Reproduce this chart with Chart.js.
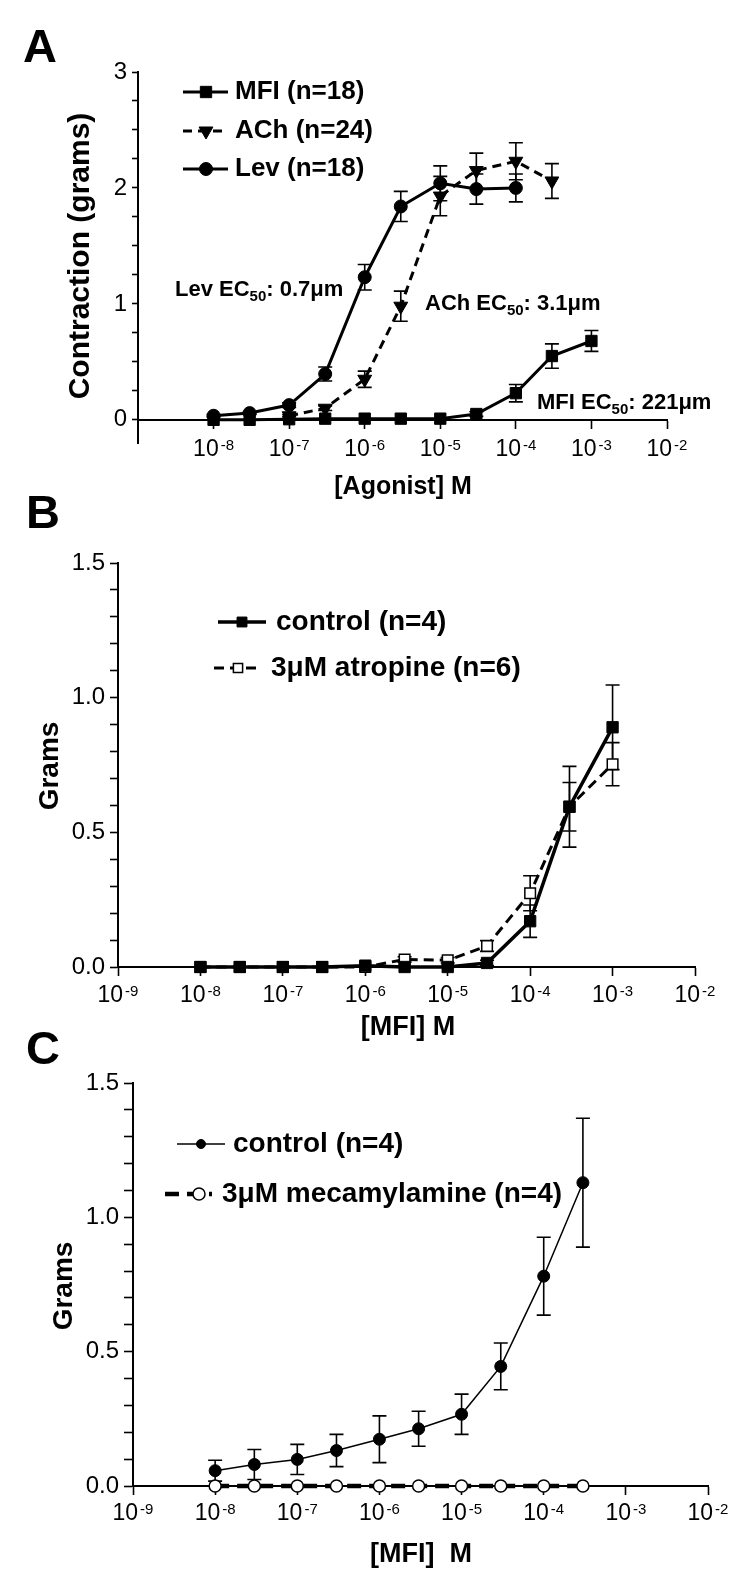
<!DOCTYPE html>
<html>
<head>
<meta charset="utf-8">
<script src="https://cdn.jsdelivr.net/npm/chart.js@4.4.1/dist/chart.umd.min.js"></script>
<style>
  html, body { margin: 0; padding: 0; background: #fff; }
  #page { position: relative; width: 750px; height: 1593px; overflow: hidden; }
  canvas { position: absolute; left: 0; }
  .tag { position: absolute; font: bold 47px 'Liberation Sans', Arial, sans-serif; line-height: 1; color: #000; }
</style>
</head>
<body>
<div id="page">
  <canvas id="chartA" width="750" height="505" style="top:0px"></canvas>
  <canvas id="chartB" width="750" height="540" style="top:505px"></canvas>
  <canvas id="chartC" width="750" height="548" style="top:1045px"></canvas>
  <div class="tag" style="left:23px;top:22px">A</div>
  <div class="tag" style="left:26px;top:488px">B</div>
  <div class="tag" style="left:26px;top:1024px">C</div>
</div>
<script>
// ---- Panel A: agonist concentration (M) vs contraction (g)
const concA   = [1e-8, 3e-8, 1e-7, 3e-7, 1e-6, 3e-6, 1e-5, 3e-5, 1e-4, 3e-4, 1e-3];
const mfiA    = [0, 0, 0.005, 0.01, 0.01, 0.01, 0.01, 0.05, 0.23, 0.55, 0.68];
const mfiAErr = [0, 0, 0, 0, 0, 0, 0, 0.02, 0.075, 0.105, 0.09];
const levConc = [1e-8, 3e-8, 1e-7, 3e-7, 1e-6, 3e-6, 1e-5, 3e-5, 1e-4];
const levA    = [0.035, 0.058, 0.127, 0.395, 1.23, 1.84, 2.04, 1.99, 2.0];
const levAErr = [0.01, 0.01, 0.02, 0.06, 0.11, 0.13, 0.15, 0.13, 0.12];
const achConc = [1e-7, 3e-7, 1e-6, 3e-6, 1e-5, 3e-5, 1e-4, 3e-4];
const achA    = [0.035, 0.10, 0.35, 0.98, 1.93, 2.15, 2.23, 2.06];
const achAErr = [0.01, 0.02, 0.07, 0.13, 0.17, 0.15, 0.16, 0.15];

// ---- Panel B: MFI with / without atropine
const concB    = [1e-8, 3e-8, 1e-7, 3e-7, 1e-6, 3e-6, 1e-5, 3e-5, 1e-4, 3e-4, 1e-3];
const ctrlB    = [0, 0, 0, 0, 0.005, 0, 0, 0.015, 0.17, 0.595, 0.89];
const ctrlBErr = [0, 0, 0, 0, 0, 0, 0, 0.01, 0.06, 0.15, 0.157];
const atrB     = [0, 0, 0, 0, 0, 0.028, 0.025, 0.078, 0.274, 0.595, 0.753];
const atrBErr  = [0, 0, 0, 0, 0, 0.01, 0.01, 0.02, 0.065, 0.09, 0.08];

// ---- Panel C: MFI with / without mecamylamine
const concC    = [1e-8, 3e-8, 1e-7, 3e-7, 1e-6, 3e-6, 1e-5, 3e-5, 1e-4, 3e-4];
const ctrlC    = [0.057, 0.080, 0.099, 0.132, 0.174, 0.213, 0.267, 0.445, 0.781, 1.129];
const ctrlCErr = [0.039, 0.056, 0.056, 0.06, 0.087, 0.065, 0.075, 0.087, 0.145, 0.24];
const mecC     = [0, 0, 0, 0, 0, 0, 0, 0, 0, 0];

// ---- ticks
const xTicksA  = [1e-8, 1e-7, 1e-6, 1e-5, 1e-4, 1e-3, 1e-2];
const xTicksBC = [1e-9, 1e-8, 1e-7, 1e-6, 1e-5, 1e-4, 1e-3, 1e-2];
const yLabelsA  = [0, 1, 2, 3];
const yLabelsBC = [0, 0.5, 1.0, 1.5];

const FONT = "'Liberation Sans', Arial, Helvetica, sans-serif";
Chart.defaults.font.family = FONT;
Chart.defaults.color = '#000';

const pts = (xs, ys) => xs.map((x, i) => ({x: x, y: ys[i]}));

// minor y ticks every `step`, labels only on the major values
function yTickList(max, step) {
  const out = [];
  for (let i = 0; i * step <= max + 1e-9; i++) out.push(Math.round(i * step * 100) / 100);
  return out;
}

const errorBars = {
  id: 'errorBars',
  beforeDatasetsDraw(chart, args, opts) {
    const ctx = chart.ctx, xs = chart.scales.x, ys = chart.scales.y;
    const cap = opts.cap || 7;
    ctx.save();
    ctx.strokeStyle = '#000';
    ctx.lineWidth = 1.6;
    chart.data.datasets.forEach(ds => {
      if (!ds.errors) return;
      ds.data.forEach((p, i) => {
        const e = ds.errors[i];
        if (!e) return;
        const px = xs.getPixelForValue(p.x);
        const t = ys.getPixelForValue(p.y + e), b = ys.getPixelForValue(p.y - e);
        ctx.beginPath();
        ctx.moveTo(px, t); ctx.lineTo(px, b);
        ctx.moveTo(px - cap, t); ctx.lineTo(px + cap, t);
        ctx.moveTo(px - cap, b); ctx.lineTo(px + cap, b);
        ctx.stroke();
      });
    });
    ctx.restore();
  }
};

const decor = {
  id: 'decor',
  afterDraw(chart, args, o) {
    const ctx = chart.ctx;
    ctx.save();
    ctx.fillStyle = '#000';

    // x tick labels as 10 with a superscript exponent
    const xs = chart.scales.x, y0 = chart.scales.y.getPixelForValue(0);
    ctx.textBaseline = 'alphabetic';
    ctx.textAlign = 'left';
    xs.ticks.forEach(t => {
      const exp = String(Math.round(Math.log10(t.value)));
      ctx.font = o.xFont + 'px ' + FONT;
      const wb = ctx.measureText('10').width;
      ctx.font = Math.round(o.xFont * 0.64) + 'px ' + FONT;
      const we = ctx.measureText(exp).width;
      const x0 = xs.getPixelForValue(t.value) - (wb + 2 + we) / 2;
      ctx.font = o.xFont + 'px ' + FONT;
      ctx.fillText('10', x0, y0 + o.xBase);
      ctx.font = Math.round(o.xFont * 0.64) + 'px ' + FONT;
      ctx.fillText(exp, x0 + wb + 2, y0 + o.xBase - 6);
    });
    ctx.textBaseline = 'middle';

    // legend inside plot
    (o.legend || []).forEach(it => {
      const ds = chart.data.datasets[it.ds];
      ctx.save();
      ctx.strokeStyle = '#000';
      ctx.lineWidth = ds.borderWidth;
      ctx.setLineDash(ds.borderDash || []);
      ctx.beginPath();
      ctx.moveTo(it.x1, it.y); ctx.lineTo(it.x2, it.y);
      ctx.stroke();
      ctx.setLineDash([]);
      ctx.fillStyle = ds.pointBackgroundColor;
      ctx.strokeStyle = '#000';
      ctx.lineWidth = ds.pointBorderWidth;
      Chart.helpers.drawPoint(ctx, {
        pointStyle: ds.pointStyle, radius: it.r, rotation: ds.pointRotation || 0,
        borderWidth: ds.pointBorderWidth
      }, it.mx, it.y);
      ctx.restore();
      ctx.font = 'bold ' + o.legendSize + 'px ' + FONT;
      ctx.textAlign = 'left';
      ctx.fillText(ds.label, it.tx, it.y);
    });

    // EC50 notes with subscript
    (o.notes || []).forEach(n => {
      let x = n.x;
      ctx.textAlign = 'left';
      ctx.font = 'bold ' + o.noteSize + 'px ' + FONT;
      ctx.fillText(n.pre, x, n.y);
      x += ctx.measureText(n.pre).width;
      ctx.font = 'bold ' + Math.round(o.noteSize * 0.68) + 'px ' + FONT;
      ctx.fillText(n.sub, x, n.y + o.noteSize * 0.3);
      x += ctx.measureText(n.sub).width;
      ctx.font = 'bold ' + o.noteSize + 'px ' + FONT;
      ctx.fillText(n.post, x, n.y);
    });

    // axis titles
    ctx.textAlign = 'center';
    ctx.font = 'bold ' + o.xTitle.size + 'px ' + FONT;
    ctx.fillText(o.xTitle.text, o.xTitle.x, o.xTitle.y);
    ctx.translate(o.yTitle.x, o.yTitle.y);
    ctx.rotate(-Math.PI / 2);
    ctx.font = 'bold ' + o.yTitle.size + 'px ' + FONT;
    ctx.fillText(o.yTitle.text, 0, 0);
    ctx.restore();
  }
};

function makeChart(id, datasets, c) {
  datasets.forEach(ds => Object.assign(ds, {
    borderColor: '#000', pointBorderColor: '#000', fill: false, tension: 0, clip: false,
    pointHoverRadius: ds.pointRadius
  }));
  return new Chart(document.getElementById(id), {
    type: 'line',
    data: { datasets: datasets },
    options: {
      responsive: false, animation: false, devicePixelRatio: 1, events: [],
      layout: { padding: c.padding },
      plugins: { legend: { display: false }, tooltip: { enabled: false },
                 errorBars: { cap: c.cap }, decor: c.decor },
      scales: {
        x: {
          type: 'logarithmic', min: 1e-9, max: 1e-2, position: { y: 0 },
          afterBuildTicks: s => { s.ticks = c.xTicks.map(v => ({ value: v })); },
          ticks: { display: false, autoSkip: false },
          grid: { drawOnChartArea: false, tickLength: 8, tickColor: '#000', tickWidth: 1.6 },
          border: { color: '#000', width: 2 },
          afterFit: s => { s.paddingLeft = 0; s.paddingRight = 0; s.paddingTop = 0; s.paddingBottom = 0; }
        },
        y: {
          min: c.yMin, max: c.yMax,
          afterBuildTicks: s => { s.ticks = c.yTicks.map(v => ({ value: v })); },
          ticks: { autoSkip: false, font: { size: 24 }, padding: 5,
                   callback: v => c.yLabels.includes(v) ? c.yFmt(v) : '' },
          grid: { drawOnChartArea: false, tickLength: c.yTick, tickColor: '#000', tickWidth: 1.6 },
          border: { color: '#000', width: 2 },
          afterFit: s => { s.width = c.left; s.paddingTop = 0; s.paddingBottom = 0; }
        }
      }
    },
    plugins: [errorBars, decor]
  });
}

// Panel A
makeChart('chartA', [
  { label: 'MFI (n=18)', data: pts(concA, mfiA), errors: mfiAErr, borderWidth: 3,
    pointStyle: 'rect', pointRadius: 8, pointBackgroundColor: '#000', pointBorderWidth: 1 },
  { label: 'ACh (n=24)', data: pts(achConc, achA), errors: achAErr, borderWidth: 3, borderDash: [9, 6],
    pointStyle: 'triangle', pointRotation: 180, pointRadius: 8, pointBackgroundColor: '#000', pointBorderWidth: 1 },
  { label: 'Lev (n=18)', data: pts(levConc, levA), errors: levAErr, borderWidth: 3,
    pointStyle: 'circle', pointRadius: 6.5, pointBackgroundColor: '#000', pointBorderWidth: 1 }
], {
  padding: { left: 0, top: 72, right: 83, bottom: 62 }, left: 138,
  yMin: -0.2, yMax: 3, yTicks: yTickList(3, 0.25), yLabels: yLabelsA, yFmt: v => String(v), yTick: 6,
  xTicks: xTicksA, cap: 7,
  decor: {
    xFont: 23, xBase: 36,
    legendSize: 26,
    legend: [
      { ds: 0, y: 92,  x1: 183, x2: 228, mx: 206, tx: 235, r: 8 },
      { ds: 1, y: 131, x1: 183, x2: 228, mx: 206, tx: 235, r: 8 },
      { ds: 2, y: 169, x1: 183, x2: 228, mx: 206, tx: 235, r: 6.5 }
    ],
    noteSize: 22,
    notes: [
      { pre: 'Lev EC', sub: '50', post: ': 0.7\u03BCm', x: 175, y: 290 },
      { pre: 'ACh EC', sub: '50', post: ': 3.1\u03BCm', x: 425, y: 304 },
      { pre: 'MFI EC', sub: '50', post: ': 221\u03BCm', x: 537, y: 403 }
    ],
    xTitle: { text: '[Agonist] M', x: 403, y: 487, size: 25 },
    yTitle: { text: 'Contraction (grams)', x: 81, y: 256, size: 30 }
  }
});

// Panel B
makeChart('chartB', [
  { label: 'control (n=4)', data: pts(concB, ctrlB), errors: ctrlBErr, borderWidth: 3.5,
    pointStyle: 'rect', pointRadius: 8, pointBackgroundColor: '#000', pointBorderWidth: 1 },
  { label: '3\u03BCM atropine (n=6)', data: pts(concB, atrB), errors: atrBErr, borderWidth: 3, borderDash: [10, 6],
    pointStyle: 'rect', pointRadius: 7.5, pointBackgroundColor: '#fff', pointBorderWidth: 1.5 }
], {
  padding: { left: 0, top: 58, right: 55, bottom: 78 }, left: 118,
  yMin: 0, yMax: 1.5, yTicks: yTickList(1.5, 0.1), yLabels: yLabelsBC, yFmt: v => v.toFixed(1), yTick: 8,
  xTicks: xTicksBC, cap: 7,
  decor: {
    xFont: 23, xBase: 35,
    legendSize: 28,
    legend: [
      { ds: 0, y: 117, x1: 218, x2: 266, mx: 242, tx: 276, r: 7 },
      { ds: 1, y: 163, x1: 214, x2: 262, mx: 238, tx: 271, r: 6.5 }
    ],
    xTitle: { text: '[MFI] M', x: 408, y: 523, size: 27 },
    yTitle: { text: 'Grams', x: 50, y: 261, size: 28 }
  }
});

// Panel C
makeChart('chartC', [
  { label: 'control (n=4)', data: pts(concC, ctrlC), errors: ctrlCErr, borderWidth: 1.5,
    pointStyle: 'circle', pointRadius: 6, pointBackgroundColor: '#000', pointBorderWidth: 1 },
  { label: '3\u03BCM mecamylamine (n=4)', data: pts(concC, mecC), borderWidth: 4.5, borderDash: [14, 8],
    pointStyle: 'circle', pointRadius: 6, pointBackgroundColor: '#fff', pointBorderWidth: 1.5 }
], {
  padding: { left: 0, top: 38, right: 42, bottom: 107 }, left: 133,
  yMin: 0, yMax: 1.5, yTicks: yTickList(1.5, 0.1), yLabels: yLabelsBC, yFmt: v => v.toFixed(1), yTick: 9,
  xTicks: xTicksBC, cap: 7,
  decor: {
    xFont: 23, xBase: 34,
    legendSize: 28,
    legend: [
      { ds: 0, y: 99,  x1: 177, x2: 225, mx: 201, tx: 233, r: 4.5 },
      { ds: 1, y: 149, x1: 165, x2: 212, mx: 199, tx: 222, r: 6 }
    ],
    xTitle: { text: '[MFI]  M', x: 421, y: 510, size: 27 },
    yTitle: { text: 'Grams', x: 64, y: 241, size: 28 }
  }
});
</script>
</body>
</html>
